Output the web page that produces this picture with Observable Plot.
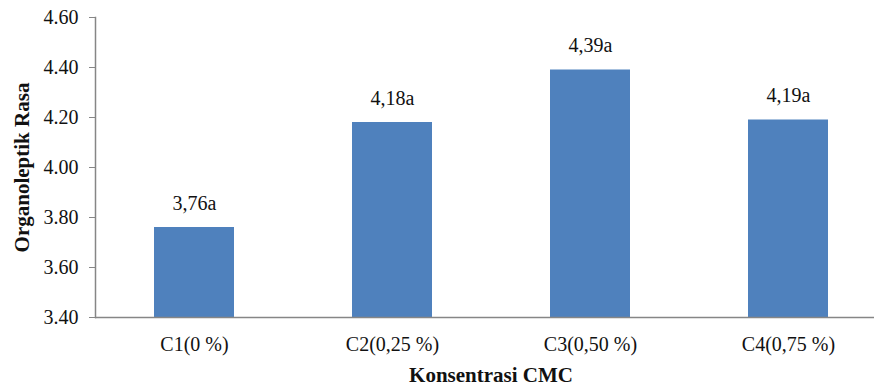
<!DOCTYPE html>
<html>
<head>
<meta charset="utf-8">
<script src="https://cdn.jsdelivr.net/npm/d3@7"></script>
<script src="https://cdn.jsdelivr.net/npm/@observablehq/plot@0.6"></script>
<style>
  html, body { margin: 0; padding: 0; background: #fff; }
  #chart svg { display: block; }
</style>
</head>
<body>
<div id="chart"></div>
<script>
// Organoleptic taste score by CMC concentration
const categories = ["C1(0 %)", "C2(0,25 %)", "C3(0,50 %)", "C4(0,75 %)"];
const values = [3.76, 4.18, 4.39, 4.19];
const notation = ["a", "a", "a", "a"];
const yTicks = [3.40, 3.60, 3.80, 4.00, 4.20, 4.40, 4.60];
const xTitle = "Konsentrasi CMC";
const yTitle = "Organoleptik Rasa";

const data = categories.map((c, i) => ({
  category: c,
  value: values[i],
  label: values[i].toFixed(2).replace(".", ",") + notation[i]
}));

const axisGrey = "#868686";
const barBlue = "#4F81BD";
const ink = "#111";

const chart = Plot.plot({
  width: 874,
  height: 385,
  marginLeft: 95,
  marginRight: 0,
  marginTop: 17,
  marginBottom: 68,
  style: { fontFamily: "'Liberation Serif', 'Times New Roman', serif", fontSize: "20px", color: ink },
  x: { domain: categories, range: [95, 887], paddingInner: 0.596, paddingOuter: 0.298 },
  y: { domain: [yTicks[0], yTicks[yTicks.length - 1]] },
  marks: [
    Plot.barY(data, { x: "category", y1: () => yTicks[0], y2: "value", fill: barBlue }),
    Plot.text(data, { x: "category", y: "value", text: "label", dy: -24, fontSize: 20, fill: ink }),
    Plot.frame({ anchor: "left", stroke: axisGrey, strokeWidth: 1.5 }),
    Plot.ruleY([yTicks[0]], { stroke: axisGrey, strokeWidth: 1.5 }),
    Plot.axisY({ ticks: yTicks, tickFormat: d3.format(".2f"), tickSize: 6, tickPadding: 11,
                 stroke: axisGrey, fill: ink, fontSize: 20, label: null }),
    Plot.axisX({ tickSize: 0, tickPadding: 19, fill: ink, fontSize: 20, label: null }),
    Plot.text([xTitle], { frameAnchor: "bottom", textAnchor: "middle", lineAnchor: "bottom",
                          dy: 64, dx: 6, fontSize: 21, fontWeight: "bold", fill: ink }),
    Plot.text([yTitle], { frameAnchor: "left", textAnchor: "middle", rotate: -90, dx: -73,
                          fontSize: 21, fontWeight: "bold", fill: ink })
  ]
});

document.getElementById("chart").appendChild(chart);
</script>
</body>
</html>
